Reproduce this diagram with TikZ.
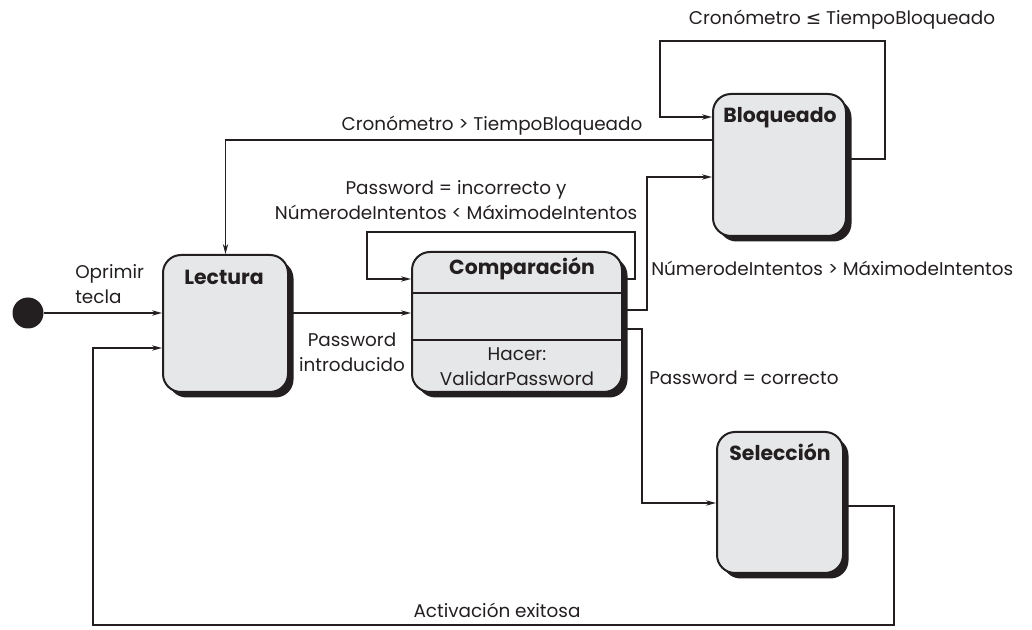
\documentclass[tikz,border=0pt]{standalone}
\usepackage{fontspec}
\setmainfont{Poppins}
\newfontfamily\symf{DejaVu Sans}
\usetikzlibrary{arrows.meta,shadows}
\newdimen\px \px=0.75pt
\definecolor{boxgray}{HTML}{E6E7E8}
\definecolor{ink}{HTML}{231F20}
\begin{document}
\begin{tikzpicture}[x=0.75pt,y=-0.75pt,
  state/.style={draw=ink, line width=1.5pt, fill=boxgray, rounded corners=18\px, inner sep=0pt,
    drop shadow={shadow xshift=5.5\px, shadow yshift=-5.5\px, fill=ink, opacity=1}},
  title/.style={font=\bfseries\fontsize{15.3}{18.75}\selectfont, text=ink, inner sep=0pt},
  lbl/.style={font=\fontsize{13.8}{18.75}\selectfont, text=ink, inner sep=0pt},
  arr/.style={draw=ink, line width=1.1pt, -{Stealth[length=7.5pt,width=4pt]}}]
\useasboundingbox (0,0) rectangle (1032,630);

% states
\node[circle, fill=ink, minimum size=31\px, inner sep=0pt] (init) at (28,313) {};
\node[state, minimum width=125\px, minimum height=137\px] (lec) at (225.5,323.5) {};
\node[state, minimum width=210\px, minimum height=140\px] (cmp) at (517,322) {};
\node[state, minimum width=133\px, minimum height=142\px] (blo) at (779.5,165) {};
\node[state, minimum width=126\px, minimum height=141\px] (sel) at (780,502.5) {};

\node[title] (lect) at (224,277) {Lectura};
\node[title] (cmpt) at (522,269) {Comparación};
\node[title] (blot) at (780,118) {Bloqueado};
\node[title] (selt) at (780,452) {Selección};

\draw[draw=ink, line width=1.5pt] (cmp.west |- 0,293) -- (cmp.east |- 0,293);
\draw[draw=ink, line width=1.5pt] (cmp.west |- 0,340) -- (cmp.east |- 0,340);
\node[lbl, align=center] (hacer) at (517,367) {Hacer:\\ValidarPassword};

% transitions
\draw[arr] (init) -- (init -| lec.west);
\node[lbl, align=left, anchor=west] (l1) at (75,284.5) {Oprimir\\tecla};

\draw[arr] (lec.east |- init) -- (init -| cmp.west);
\node[lbl, align=center] (l2) at (352,352) {Password\\introducido};

\draw[arr] (sel.east |- 0,506) -- (894,506) -- (894,625) -- (93,625) -- (93,348) -- (lec.west |- 0,348);
\node[lbl] (l3) at (497,610) {Activación exitosa};

\draw[arr] (blo.west |- 0,140) -| (lec.north);
\node[lbl] (l4) at (492,126) {Cronómetro > TiempoBloqueado};

\draw[arr] (blo.east |- 0,159) -- (885,159) -- (885,41) -- (660,41) -- (660,117) -- (blo.west |- 0,117);
\node[lbl] (l5) at (842,20) {Cronómetro {\symf ≤} TiempoBloqueado};

\draw[arr] (cmp.east |- 0,279) -- (635,279) -- (635,232) -- (367,232) -- (367,279) -- (cmp.west |- 0,279);
\node[lbl, align=center] (l6) at (456,200.5) {Password = incorrecto y\\NúmerodeIntentos < MáximodeIntentos};

\draw[arr] (cmp.east |- 0,310) -- (647,310) -- (647,177) -- (blo.west |- 0,177);
\node[lbl, anchor=west] (l7) at (651,268) {NúmerodeIntentos > MáximodeIntentos};

\draw[arr] (cmp.east |- 0,329) -- (642,329) -- (642,503) -- (sel.west |- 0,503);
\node[lbl, anchor=west] (l8) at (649,378) {Password = correcto};
\end{tikzpicture}
\end{document}
